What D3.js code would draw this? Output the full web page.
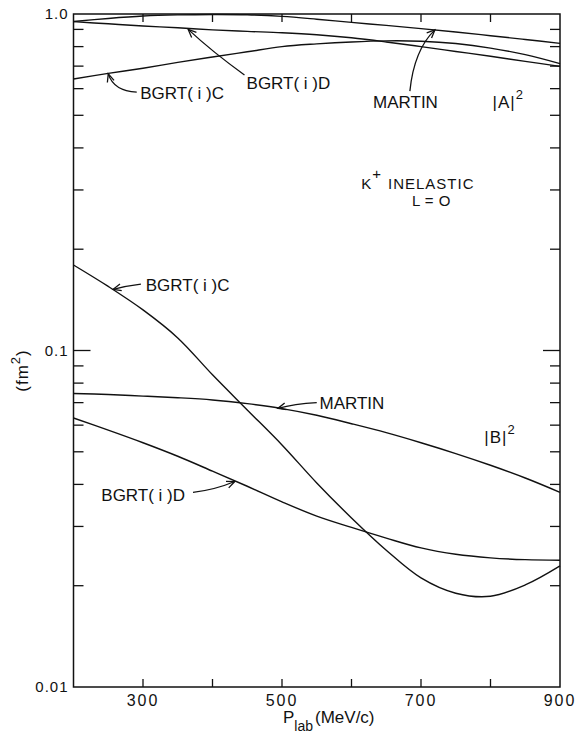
<!DOCTYPE html>
<html>
<head>
<meta charset="utf-8">
<script src="https://cdn.jsdelivr.net/npm/d3@7"></script>
<style>
  body { margin: 0; background: #fff; }
  text { font-family: 'Liberation Sans', Arial, sans-serif; fill: #111; }
</style>
</head>
<body>
<div id="chart"></div>
<script>
// P_lab (MeV/c) sample points shared by all curves
const plab = [200, 250, 300, 350, 400, 450, 500, 550, 600, 650, 700, 750, 800, 850, 900];

// |A|^2 curves (fm^2)
const martinA = [0.95, 0.97, 0.986, 0.994, 0.997, 0.995, 0.984, 0.965, 0.944, 0.925, 0.905, 0.884, 0.862, 0.84, 0.818];
const bgrtDA = [0.949, 0.935, 0.921, 0.91, 0.897, 0.888, 0.88, 0.868, 0.85, 0.826, 0.8, 0.774, 0.749, 0.723, 0.699];
const bgrtCA = [0.641, 0.666, 0.69, 0.718, 0.745, 0.772, 0.8, 0.815, 0.826, 0.832, 0.83, 0.817, 0.792, 0.757, 0.712];

// |B|^2 curves (fm^2)
const martinB = [0.0745, 0.074, 0.0732, 0.0724, 0.0713, 0.0695, 0.0672, 0.0642, 0.0606, 0.057, 0.0532, 0.0494, 0.0456, 0.0418, 0.0379];
const bgrtDB = [0.063, 0.058, 0.0532, 0.0485, 0.0438, 0.0395, 0.0355, 0.0322, 0.0298, 0.0277, 0.0259, 0.0248, 0.0242, 0.0239, 0.0238];
const bgrtCB = [0.1795, 0.155, 0.132, 0.109, 0.0847, 0.0666, 0.0524, 0.0404, 0.0318, 0.0255, 0.0211, 0.019, 0.0186, 0.0201, 0.0229];

// axis ticks
const xTicks = [300, 400, 500, 600, 700, 800];
const xLabels = [300, 500, 700, 900];
const yMinor = [0.02, 0.03, 0.04, 0.05, 0.06, 0.07, 0.08, 0.09, 0.2, 0.3, 0.4, 0.5, 0.6, 0.7, 0.8, 0.9];
const yMajor = [0.1];
const yLabels = [0.01, 0.1, 1.0];
const yLabelText = ['0.01', '0.1', '1.0'];

// curve labels: [text, P, value]
const labels = [
  ['BGRT( i )C', 296, 0.584],
  ['BGRT( i )D', 449, 0.625],
  ['MARTIN', 631, 0.548],
  ['BGRT( i )C', 304, 0.1566],
  ['MARTIN', 554, 0.0699],
  ['BGRT( i )D', 240, 0.0372]
];

// arrows: tail, control, tip as [P, value]
const arrows = [
  [[291, 0.586], [258, 0.59], [250, 0.664]],
  [[446, 0.659], [400, 0.771], [365, 0.9]],
  [[684, 0.59], [690, 0.782], [720, 0.897]],
  [[297, 0.1576], [278, 0.156], [257, 0.152]],
  [[550, 0.07], [518, 0.0694], [494, 0.0673]],
  [[372, 0.0379], [403, 0.0385], [432, 0.0408]]
];

const width = 579;
const height = 742;
const marginLeft = 73.5;
const plotRight = 560;
const plotTop = 14;
const plotBottom = 687;

const x = d3.scaleLinear().domain([200, 900]).range([marginLeft, plotRight]);
const y = d3.scaleLog().domain([0.01, 1]).range([plotBottom, plotTop]);

const svg = d3
  .select('#chart')
  .append('svg')
  .attr('width', width)
  .attr('height', height);

// open arrow head
svg
  .append('defs')
  .append('marker')
  .attr('id', 'head')
  .attr('viewBox', '-10 -6 12 12')
  .attr('refX', 0)
  .attr('refY', 0)
  .attr('markerUnits', 'userSpaceOnUse')
  .attr('markerWidth', 12)
  .attr('markerHeight', 12)
  .attr('orient', 'auto')
  .append('path')
  .attr('d', 'M-8,-3.5L0,0L-8,3.5')
  .attr('fill', 'none')
  .attr('stroke', '#111')
  .attr('stroke-width', 1.3);

// frame
svg
  .append('rect')
  .attr('x', marginLeft)
  .attr('y', plotTop)
  .attr('width', plotRight - marginLeft)
  .attr('height', plotBottom - plotTop)
  .attr('fill', 'none')
  .attr('stroke', '#111')
  .attr('stroke-width', 1.5);

const gTicks = svg.append('g').attr('stroke', '#111').attr('stroke-width', 1.3);

// x ticks, bottom and top, pointing inward
xTicks.forEach((t) => {
  gTicks.append('line').attr('x1', x(t)).attr('x2', x(t)).attr('y1', plotBottom).attr('y2', plotBottom - 8);
  gTicks.append('line').attr('x1', x(t)).attr('x2', x(t)).attr('y1', plotTop).attr('y2', plotTop + 8);
});

// y ticks, left and right
yMinor.forEach((t) => {
  gTicks.append('line').attr('x1', marginLeft).attr('x2', marginLeft + 10).attr('y1', y(t)).attr('y2', y(t));
  gTicks.append('line').attr('x1', plotRight).attr('x2', plotRight - 10).attr('y1', y(t)).attr('y2', y(t));
});
yMajor.forEach((t) => {
  gTicks.append('line').attr('x1', marginLeft).attr('x2', marginLeft + 17).attr('y1', y(t)).attr('y2', y(t));
  gTicks.append('line').attr('x1', plotRight).attr('x2', plotRight - 17).attr('y1', y(t)).attr('y2', y(t));
});

// tick labels
svg
  .append('g')
  .selectAll('text')
  .data(xLabels)
  .join('text')
  .attr('x', (d) => x(d))
  .attr('y', plotBottom + 13)
  .attr('text-anchor', 'middle')
  .attr('font-size', 16)
  .attr('letter-spacing', 2)
  .attr('dy', '0.35em')
  .text((d) => d);

svg
  .append('g')
  .selectAll('text')
  .data(yLabels)
  .join('text')
  .attr('x', marginLeft - 5)
  .attr('y', (d) => y(d))
  .attr('text-anchor', 'end')
  .attr('font-size', 15)
  .attr('letter-spacing', 1)
  .attr('dy', '0.35em')
  .text((d, i) => yLabelText[i]);

// curves
const line = d3
  .line()
  .x((d) => x(d[0]))
  .y((d) => y(d[1]))
  .curve(d3.curveCatmullRom.alpha(0.5));

[martinA, bgrtDA, bgrtCA, martinB, bgrtDB, bgrtCB].forEach((series) => {
  svg
    .append('path')
    .attr('d', line(plab.map((p, i) => [p, series[i]])))
    .attr('fill', 'none')
    .attr('stroke', '#111')
    .attr('stroke-width', 1.4);
});

// arrows from labels to curves
arrows.forEach(([tail, ctrl, tip]) => {
  const p = d3.path();
  p.moveTo(x(tail[0]), y(tail[1]));
  p.quadraticCurveTo(x(ctrl[0]), y(ctrl[1]), x(tip[0]), y(tip[1]));
  svg
    .append('path')
    .attr('d', p.toString())
    .attr('fill', 'none')
    .attr('stroke', '#111')
    .attr('stroke-width', 1.3)
    .attr('marker-end', 'url(#head)');
});

svg
  .append('g')
  .selectAll('text')
  .data(labels)
  .join('text')
  .attr('x', (d) => x(d[1]))
  .attr('y', (d) => y(d[2]))
  .attr('dy', '0.36em')
  .attr('font-size', 17)
  .text((d) => d[0]);

// |A|^2 and |B|^2
const amp = (txt, p, v) => {
  const t = svg
    .append('text')
    .attr('x', x(p))
    .attr('y', y(v))
    .attr('dy', '0.36em')
    .attr('font-size', 17)
    .attr('letter-spacing', 1);
  t.append('tspan').text(txt);
  t.append('tspan').attr('font-size', 13).attr('dy', '-0.7em').text('2');
};
amp('|A|', 803, 0.548);
amp('|B|', 791, 0.0555);

// reaction text
const k = svg
  .append('text')
  .attr('x', x(614))
  .attr('y', y(0.313))
  .attr('dy', '0.36em')
  .attr('font-size', 15)
  .attr('letter-spacing', 1);
k.append('tspan').text('K');
k.append('tspan').attr('dy', '-0.7em').attr('font-size', 15).text('+');
k.append('tspan').attr('dy', '0.7em').attr('dx', 6).text('INELASTIC');

svg
  .append('text')
  .attr('x', x(715))
  .attr('y', y(0.278))
  .attr('dy', '0.36em')
  .attr('text-anchor', 'middle')
  .attr('font-size', 15)
  .attr('letter-spacing', 0.5)
  .text('L = O');

// axis titles
svg
  .append('text')
  .attr('transform', `translate(22,${(plotTop + plotBottom) / 2 + 20}) rotate(-90)`)
  .attr('text-anchor', 'middle')
  .attr('dy', '0.35em')
  .attr('font-size', 17)
  .attr('letter-spacing', 1)
  .call((t) => {
    t.append('tspan').text('(fm');
    t.append('tspan').attr('font-size', 13).attr('dy', '-0.6em').text('2');
    t.append('tspan').attr('dy', '0.45em').text(')');
  });

const xt = svg
  .append('text')
  .attr('x', 283)
  .attr('y', 723)
  .attr('font-size', 17);
xt.append('tspan').text('P');
xt.append('tspan').attr('font-size', 14).attr('dy', 8).text('lab');
xt.append('tspan').attr('dy', -8).attr('dx', 2).text('(MeV/c)');
</script>
</body>
</html>
